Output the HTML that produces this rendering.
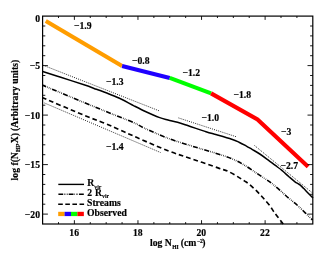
<!DOCTYPE html>
<html><head><meta charset="utf-8"><title>plot</title>
<style>html,body{margin:0;padding:0;background:#fff;}svg{display:block;}text{font-family:"Liberation Serif", serif;font-weight:bold;font-size:9.7px;fill:#000;stroke:#000;stroke-width:0.18px;}</style>
</head><body>
<svg width="336" height="256" viewBox="0 0 336 256">
<defs><filter id="f" filterUnits="userSpaceOnUse" x="0" y="0" width="336" height="256"><feOffset dx="0" dy="0"/></filter></defs>
<g filter="url(#f)">
<rect x="0" y="0" width="336" height="256" fill="#fff"/>
<line x1="43.30" y1="65.30" x2="159.60" y2="111.00" stroke="#000" stroke-width="0.85" stroke-dasharray="1.0 1.2"/>
<line x1="178.50" y1="117.90" x2="237.00" y2="137.00" stroke="#000" stroke-width="0.85" stroke-dasharray="1.0 1.2"/>
<line x1="254.50" y1="145.50" x2="312.50" y2="193.00" stroke="#000" stroke-width="0.85" stroke-dasharray="1.0 1.2"/>
<line x1="44.50" y1="103.00" x2="160.50" y2="152.50" stroke="#000" stroke-width="0.85" stroke-dasharray="1.0 1.2"/>
<path d="M42.70 71.50 C45.58 72.42 53.12 74.78 60.00 77.00 C66.88 79.22 77.92 82.75 84.00 84.80 C90.08 86.85 92.33 87.77 96.50 89.30 C100.67 90.83 104.83 92.35 109.00 94.00 C113.17 95.65 117.33 97.23 121.50 99.20 C125.67 101.17 129.83 103.67 134.00 105.80 C138.17 107.93 142.33 110.07 146.50 112.00 C150.67 113.93 155.42 116.07 159.00 117.40 C162.58 118.73 164.92 119.18 168.00 120.00 C171.08 120.82 174.12 121.33 177.50 122.30 C180.88 123.27 183.55 124.22 188.30 125.80 C193.05 127.38 201.27 130.30 206.00 131.80 C210.73 133.30 212.42 133.55 216.70 134.80 C220.98 136.05 227.98 138.07 231.70 139.30 C235.42 140.53 236.62 141.12 239.00 142.20 C241.38 143.28 243.83 144.62 246.00 145.80 C248.17 146.98 249.70 147.93 252.00 149.30 C254.30 150.67 257.13 152.23 259.80 154.00 C262.47 155.77 265.47 158.03 268.00 159.90 C270.53 161.77 272.78 163.53 275.00 165.20 C277.22 166.87 279.80 168.72 281.30 169.90 C282.80 171.08 282.63 171.08 284.00 172.30 C285.37 173.52 287.67 175.62 289.50 177.20 C291.33 178.78 293.58 180.73 295.00 181.80 C296.42 182.87 297.17 183.08 298.00 183.60 C298.83 184.12 299.08 184.12 300.00 184.90 C300.92 185.68 302.33 187.13 303.50 188.30 C304.67 189.47 305.42 190.28 307.00 191.90 C308.58 193.52 312.00 196.98 313.00 198.00" fill="none" stroke="#000" stroke-width="1.5" stroke-linejoin="round"/>
<path d="M42.70 85.25 C49.58 88.12 72.95 97.92 84.00 102.50 C95.05 107.08 100.67 109.38 109.00 112.75 C117.33 116.12 128.17 120.21 134.00 122.75 C139.83 125.29 138.33 125.42 144.00 128.00 C149.67 130.58 159.83 135.18 168.00 138.25 C176.17 141.32 184.67 143.79 193.00 146.40 C201.33 149.01 211.33 151.77 218.00 153.90 C224.67 156.03 228.50 157.27 233.00 159.20 C237.50 161.13 240.95 163.10 245.00 165.50 C249.05 167.90 254.05 171.45 257.30 173.60 C260.55 175.75 262.42 177.03 264.50 178.40 C266.58 179.77 268.05 180.53 269.80 181.80 C271.55 183.07 273.30 184.58 275.00 186.00 C276.70 187.42 278.22 188.72 280.00 190.30 C281.78 191.88 283.87 193.88 285.70 195.50 C287.53 197.12 288.78 198.12 291.00 200.00 C293.22 201.88 295.42 203.47 299.00 206.80 C302.58 210.13 310.25 217.80 312.50 220.00" fill="none" stroke="#000" stroke-width="1.6" stroke-dasharray="5 1.25 0.6 1.2 0.6 1.2 0.6 1.25" stroke-dashoffset="1.35"/>
<path d="M42.70 97.75 C49.58 100.67 73.78 111.04 84.00 115.25 C94.22 119.46 98.00 120.56 104.00 123.00 C110.00 125.44 114.50 127.47 120.00 129.90 C125.50 132.33 129.00 134.12 137.00 137.60 C145.00 141.07 158.67 147.14 168.00 150.75 C177.33 154.36 184.67 156.39 193.00 159.25 C201.33 162.11 212.17 165.89 218.00 167.90 C223.83 169.91 224.67 169.80 228.00 171.30 C231.33 172.80 235.27 175.30 238.00 176.90 C240.73 178.50 242.62 179.77 244.40 180.90 C246.18 182.03 247.18 182.52 248.70 183.70 C250.22 184.88 252.03 186.63 253.50 188.00 C254.97 189.37 256.22 190.60 257.50 191.90 C258.78 193.20 259.93 194.43 261.20 195.80 C262.47 197.17 263.62 198.38 265.10 200.10 C266.58 201.82 268.72 204.27 270.10 206.10 C271.48 207.93 272.12 209.28 273.40 211.10 C274.68 212.92 276.17 214.85 277.80 217.00 C279.43 219.15 282.30 222.83 283.20 224.00" fill="none" stroke="#000" stroke-width="1.65" stroke-dasharray="4.8 3.0" stroke-dashoffset="0.8"/>
<line x1="45.78" y1="20.91" x2="122.07" y2="66.05" stroke="#ff9d00" stroke-width="4.1" stroke-linecap="butt"/>
<line x1="122.07" y1="66.05" x2="169.75" y2="77.93" stroke="#1f00ff" stroke-width="4.1" stroke-linecap="butt"/>
<line x1="169.75" y1="77.93" x2="211.08" y2="93.37" stroke="#00ff00" stroke-width="4.1" stroke-linecap="butt"/>
<polyline points="211.08,93.37 257.49,119.41 308.10,166.69" fill="none" stroke="#ff0000" stroke-width="4.1" stroke-linejoin="miter" stroke-linecap="butt"/>
<rect x="42.60" y="16.10" width="270.20" height="207.90" fill="none" stroke="#000" stroke-width="1.2"/>
<path d="M58.49 224.00V222.10M58.49 16.10V18.00M74.39 224.00V220.20M74.39 16.10V19.90M90.28 224.00V222.10M90.28 16.10V18.00M106.18 224.00V222.10M106.18 16.10V18.00M122.07 224.00V222.10M122.07 16.10V18.00M137.96 224.00V220.20M137.96 16.10V19.90M153.86 224.00V222.10M153.86 16.10V18.00M169.75 224.00V222.10M169.75 16.10V18.00M185.65 224.00V222.10M185.65 16.10V18.00M201.54 224.00V220.20M201.54 16.10V19.90M217.44 224.00V222.10M217.44 16.10V18.00M233.33 224.00V222.10M233.33 16.10V18.00M249.22 224.00V222.10M249.22 16.10V18.00M265.12 224.00V220.20M265.12 16.10V19.90M281.01 224.00V222.10M281.01 16.10V18.00M296.91 224.00V222.10M296.91 16.10V18.00M42.60 26.00H45.30M312.80 26.00H310.10M42.60 35.90H45.30M312.80 35.90H310.10M42.60 45.80H45.30M312.80 45.80H310.10M42.60 55.70H45.30M312.80 55.70H310.10M42.60 65.60H47.90M312.80 65.60H307.50M42.60 75.50H45.30M312.80 75.50H310.10M42.60 85.40H45.30M312.80 85.40H310.10M42.60 95.30H45.30M312.80 95.30H310.10M42.60 105.20H45.30M312.80 105.20H310.10M42.60 115.10H47.90M312.80 115.10H307.50M42.60 125.00H45.30M312.80 125.00H310.10M42.60 134.90H45.30M312.80 134.90H310.10M42.60 144.80H45.30M312.80 144.80H310.10M42.60 154.70H45.30M312.80 154.70H310.10M42.60 164.60H47.90M312.80 164.60H307.50M42.60 174.50H45.30M312.80 174.50H310.10M42.60 184.40H45.30M312.80 184.40H310.10M42.60 194.30H45.30M312.80 194.30H310.10M42.60 204.20H45.30M312.80 204.20H310.10M42.60 214.10H47.90M312.80 214.10H307.50" stroke="#000" stroke-width="0.9" fill="none"/>
<text x="74.19" y="235.8" text-anchor="middle">16</text>
<text x="137.76" y="235.8" text-anchor="middle">18</text>
<text x="201.34" y="235.8" text-anchor="middle">20</text>
<text x="264.92" y="235.8" text-anchor="middle">22</text>
<text x="40" y="22.00" text-anchor="end">0</text>
<text x="40" y="69.10" text-anchor="end">−5</text>
<text x="40" y="118.60" text-anchor="end">−10</text>
<text x="40" y="168.10" text-anchor="end">−15</text>
<text x="40" y="217.60" text-anchor="end">−20</text>
<text x="74.00" y="28.50">−1.9</text>
<text x="131.90" y="63.50">−0.8</text>
<text x="106.00" y="85.30">−1.3</text>
<text x="182.50" y="76.00">−1.2</text>
<text x="233.40" y="97.50">−1.8</text>
<text x="201.50" y="120.80">−1.0</text>
<text x="281.00" y="134.50">−3</text>
<text x="280.50" y="169.30">−2.7</text>
<text x="106.00" y="150.00">−1.4</text>
<line x1="58.3" y1="184.4" x2="84.0" y2="184.4" stroke="#000" stroke-width="1.4"/>
<line x1="58.4" y1="194.2" x2="83.8" y2="194.2" stroke="#000" stroke-width="1.4" stroke-dasharray="4.8 0.95 0.57 0.95 0.57 0.95 0.57 0.95"/>
<line x1="58.2" y1="204.2" x2="84.1" y2="204.2" stroke="#000" stroke-width="1.4" stroke-dasharray="4.6 2.5"/>
<rect x="58.20" y="211.8" width="6.45" height="4.3" fill="#ff9d00"/>
<rect x="64.60" y="211.8" width="6.45" height="4.3" fill="#1f00ff"/>
<rect x="71.00" y="211.8" width="6.45" height="4.3" fill="#00ff00"/>
<rect x="77.40" y="211.8" width="6.45" height="4.3" fill="#ff0000"/>
<text x="87.30" y="186.30">R<tspan style="font-size:5.8px;stroke-width:0.12px" dy="2.7" dx="0">vir</tspan></text>
<text x="87.30" y="195.70">2<tspan dx="2.9">R</tspan><tspan style="font-size:5.8px;stroke-width:0.12px" dy="2.7" dx="0">vir</tspan></text>
<text x="87.00" y="206.40">Streams</text>
<text x="87.00" y="216.10">Observed</text>
<text x="150.00" y="246.20">log N</text>
<text x="172.20" y="248.60" style="font-size:5.6px;stroke-width:0.2px" >HI</text>
<text x="180.70" y="246.20">(cm</text>
<text x="196.90" y="243.20" style="font-size:5.6px;stroke-width:0.2px" >−2</text>
<text x="202.30" y="246.20">)</text>
<g transform="translate(17.6 180.4) rotate(-90)">
<text x="0.00" y="0.00">log f(N</text>
<text x="28.40" y="2.40" style="font-size:5.6px;stroke-width:0.2px" >HI</text>
<text x="34.70" y="0.00">,X)</text>
<text x="49.3" y="0" letter-spacing="0.07">(Arbitrary units)</text>
</g>
</g>
</svg>
</body></html>
